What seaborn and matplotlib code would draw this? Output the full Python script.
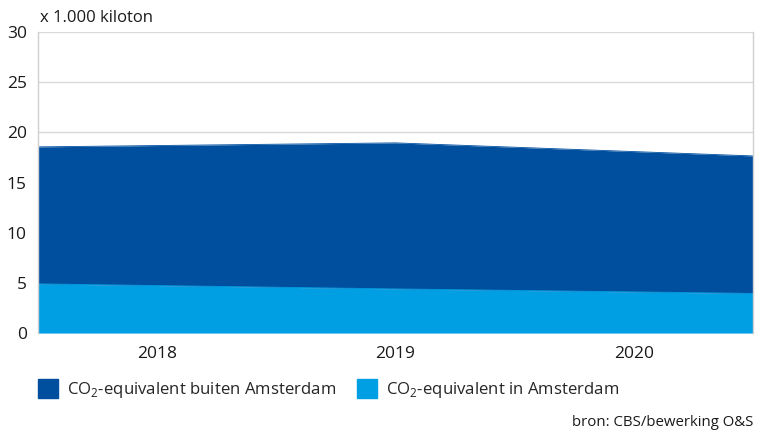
import numpy as np
import pandas as pd
import matplotlib.pyplot as plt
import seaborn as sns
from matplotlib.patches import Patch

years = ["2018", "2019", "2020"]
in_amsterdam = [4.9, 4.4, 3.95]
buiten_amsterdam = [13.65, 14.55, 13.7]

label_buiten = r"CO$_\mathregular{2}$-equivalent buiten Amsterdam"
label_in = r"CO$_\mathregular{2}$-equivalent in Amsterdam"
col_buiten = "#004f9f"
col_in = "#009fe3"

sns.set_theme(style="white")
plt.rcParams["font.family"] = ["Open Sans", "DejaVu Sans"]
plt.rcParams["mathtext.fontset"] = "custom"
plt.rcParams["mathtext.rm"] = "Open Sans"

# punten op randen en midden, labels in het midden van elke derde
xpos = np.linspace(0, 3, len(years))
df = pd.DataFrame({"x": xpos, "in": in_amsterdam,
                   "totaal": np.array(in_amsterdam) + np.array(buiten_amsterdam)})

fig = plt.figure(figsize=(7.66, 4.32), dpi=100)
ax = fig.add_axes([0.0496, 0.229, 0.9334, 0.697])

ax.fill_between(df["x"], 0, df["in"], color=col_in, lw=0)
ax.fill_between(df["x"], df["in"], df["totaal"], color=col_buiten, lw=0)
sns.lineplot(data=df, x="x", y="totaal", ax=ax, color=col_buiten, lw=0.6)
sns.lineplot(data=df, x="x", y="in", ax=ax, color=col_in, lw=0.6)

ax.set_xlim(0, 3)
ax.set_ylim(0, 30)
ax.set_yticks(range(0, 31, 5))
ax.set_xticks([0.5, 1.5, 2.5])
ax.set_xticklabels(years)
ax.set_xlabel("")
ax.set_ylabel("")
ax.yaxis.grid(True, color="#d9d9d9", lw=1)
ax.set_axisbelow(True)
ax.tick_params(axis="both", labelsize=12.5, colors="#1a1a1a", length=0)
ax.tick_params(axis="x", pad=9)
ax.tick_params(axis="y", pad=8)
for side in ["top", "bottom"]:
    ax.spines[side].set_visible(False)
for side in ["left", "right"]:
    ax.spines[side].set_color("#d0d0d0")
    ax.spines[side].set_linewidth(1)

fig.text(0.052, 0.958, "x 1.000 kiloton", fontsize=12, color="#1a1a1a", va="center")

handles = [Patch(color=col_buiten, label=label_buiten), Patch(color=col_in, label=label_in)]
fig.legend(handles=handles, loc="center left", bbox_to_anchor=(0.0496, 0.098), ncol=2,
           frameon=False, fontsize=12.1, handlelength=1.2, handleheight=1.35,
           handletextpad=0.55, columnspacing=1.2, borderaxespad=0, borderpad=0)

fig.text(0.983, 0.005, "bron: CBS/bewerking O&S", fontsize=10.8, color="#1a1a1a",
         ha="right", va="bottom")

fig.savefig("out.png", dpi=100)
